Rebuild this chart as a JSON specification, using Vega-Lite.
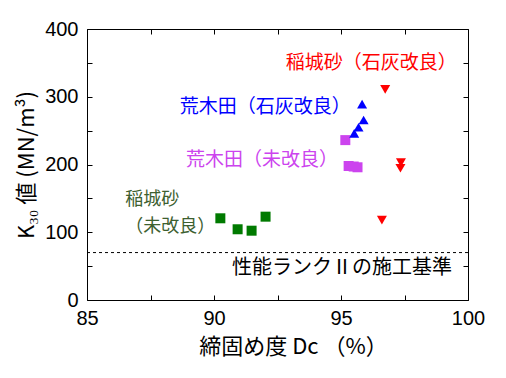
{
  "$schema": "https://vega.github.io/schema/vega-lite/v6.json",
  "width": 381,
  "height": 271,
  "autosize": "none",
  "padding": {"left": 87, "top": 29, "right": 38, "bottom": 78},
  "background": "white",
  "config": {
    "view": {"stroke": "black", "strokeWidth": 1},
    "axis": {"zindex": 1, "domain": false, "ticks": false, "tickSize": 0, "grid": true, "gridColor": "#000000", "gridOpacity": 1, "gridWidth": 1, "labelColor": "black", "titleColor": "black", "labelFont": "Liberation Sans", "labelFontSize": 20, "labelFlush": false, "labelOverlap": false, "titleFont": "Noto Sans CJK JP", "titleFontWeight": "normal", "titleFontSize": 21}
  },
  "datasets": {
    "pts": [
      {"Dc": 90.25, "K30": 120.6, "group": "稲城砂(未改良)"},
      {"Dc": 90.93, "K30": 104.4, "group": "稲城砂(未改良)"},
      {"Dc": 91.48, "K30": 102.3, "group": "稲城砂(未改良)"},
      {"Dc": 92.03, "K30": 123.0, "group": "稲城砂(未改良)"},
      {"Dc": 95.17, "K30": 236.0, "group": "荒木田(未改良)"},
      {"Dc": 95.3, "K30": 197.8, "group": "荒木田(未改良)"},
      {"Dc": 95.5, "K30": 197.0, "group": "荒木田(未改良)"},
      {"Dc": 95.65, "K30": 195.9, "group": "荒木田(未改良)"},
      {"Dc": 95.83, "K30": 289.0, "group": "荒木田(石灰改良)"},
      {"Dc": 95.89, "K30": 265.7, "group": "荒木田(石灰改良)"},
      {"Dc": 95.69, "K30": 255.0, "group": "荒木田(石灰改良)"},
      {"Dc": 95.52, "K30": 246.0, "group": "荒木田(石灰改良)"},
      {"Dc": 96.74, "K30": 311.0, "group": "稲城砂(石灰改良)"},
      {"Dc": 97.36, "K30": 202.7, "group": "稲城砂(石灰改良)"},
      {"Dc": 97.34, "K30": 194.4, "group": "稲城砂(石灰改良)"},
      {"Dc": 96.61, "K30": 118.0, "group": "稲城砂(石灰改良)"}
    ],
    "labels": [
      {"Dc": 96.19, "K30": 349.4, "text": "稲城砂（石灰改良）", "group": "稲城砂(石灰改良)"},
      {"Dc": 92.02, "K30": 284.4, "text": "荒木田（石灰改良）", "group": "荒木田(石灰改良)"},
      {"Dc": 91.89, "K30": 206.6, "text": "荒木田（未改良）", "group": "荒木田(未改良)"}
    ],
    "greenlabels": [
      {"Dc": 86.51, "K30": 147.6, "text": "稲城砂"},
      {"Dc": 86.51, "K30": 108.2, "text": "（未改良）"}
    ]
  },
  "layer": [
    {
      "data": {"values": [{"K30": 70}]},
      "mark": {"type": "rule", "color": "black", "strokeDash": [3, 3], "strokeWidth": 1},
      "encoding": {
        "y": {"field": "K30", "type": "quantitative", "scale": {"domain": [0, 400], "nice": false}, "axis": {"orient": "left", "values": [0, 50, 100, 150, 200, 250, 300, 350, 400], "gridDash": [5, 371, 5, 1000], "labelExpr": "datum.value % 100 == 0 ? datum.label : ''", "labelPadding": 9, "title": "K₃₀ 値 (MN/m³)", "titleFontSize": 22, "titlePadding": 6}}
      }
    },
    {
      "data": {"name": "pts"},
      "mark": {"type": "point", "filled": true, "opacity": 1, "size": 100},
      "encoding": {
        "x": {"field": "Dc", "type": "quantitative", "scale": {"domain": [85, 100], "nice": false, "zero": false}, "axis": {"orient": "bottom", "values": [85, 87.5, 90, 92.5, 95, 97.5, 100], "gridDash": [5, 261, 5, 1000], "labelExpr": "datum.value % 5 == 0 ? datum.label : ''", "labelPadding": 8, "title": "締固め度 Dc （%）", "titleFontSize": 22, "titleX": 206, "titlePadding": 8}},
        "y": {"field": "K30", "type": "quantitative", "axis": null},
        "shape": {"field": "group", "type": "nominal", "legend": null, "scale": {"domain": ["稲城砂(未改良)", "荒木田(未改良)", "荒木田(石灰改良)", "稲城砂(石灰改良)"], "range": ["square", "square", "triangle-up", "triangle-down"]}},
        "color": {"field": "group", "type": "nominal", "legend": null, "scale": {"domain": ["稲城砂(未改良)", "荒木田(未改良)", "荒木田(石灰改良)", "稲城砂(石灰改良)"], "range": ["#007a00", "#cc44ee", "#0000ff", "#ff0000"]}}
      }
    },
    {
      "data": {"name": "labels"},
      "mark": {"type": "text", "font": "Noto Sans CJK JP", "fontSize": 19, "baseline": "middle", "align": "center"},
      "encoding": {
        "x": {"field": "Dc", "type": "quantitative", "axis": null},
        "y": {"field": "K30", "type": "quantitative", "axis": null},
        "text": {"field": "text"},
        "color": {"field": "group", "type": "nominal", "legend": null}
      }
    },
    {
      "data": {"name": "greenlabels"},
      "mark": {"type": "text", "font": "Noto Sans CJK JP", "fontSize": 18, "baseline": "middle", "align": "left", "color": "#3d6030"},
      "encoding": {
        "x": {"field": "Dc", "type": "quantitative", "axis": null},
        "y": {"field": "K30", "type": "quantitative", "axis": null},
        "text": {"field": "text"}
      }
    },
    {
      "data": {"values": [{"Dc": 99.37, "K30": 46.8, "text": "性能ランクⅡの施工基準"}]},
      "mark": {"type": "text", "font": "Noto Sans CJK JP", "fontSize": 20, "baseline": "middle", "align": "right", "color": "black"},
      "encoding": {
        "x": {"field": "Dc", "type": "quantitative", "axis": null},
        "y": {"field": "K30", "type": "quantitative", "axis": null},
        "text": {"field": "text"}
      }
    }
  ],
  "resolve": {"axis": {"x": "independent", "y": "independent"}}
}
